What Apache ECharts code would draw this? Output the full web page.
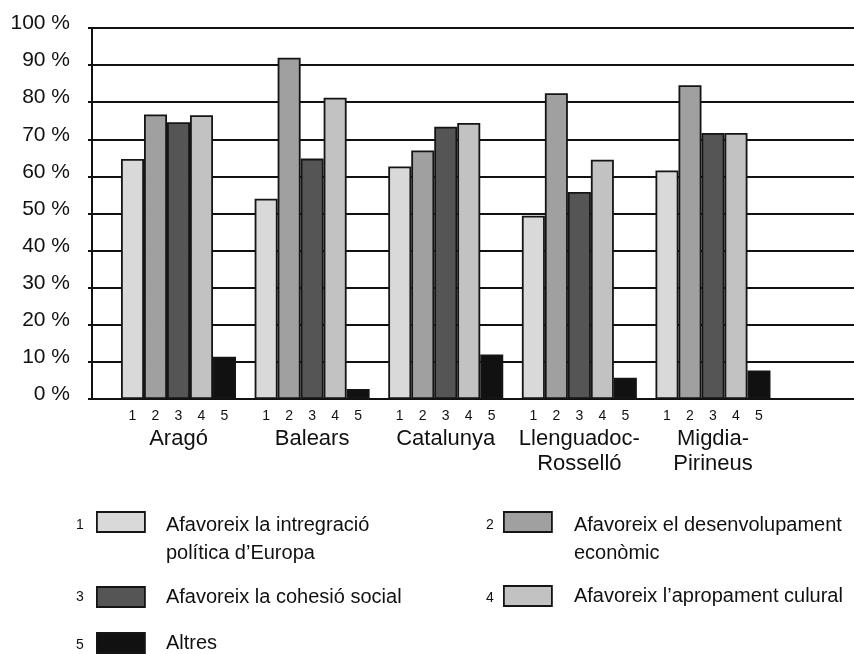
<!DOCTYPE html>
<html>
<head>
<meta charset="utf-8">
<script src="https://cdn.jsdelivr.net/npm/echarts@6/dist/echarts.min.js"></script>
<style>
html,body{margin:0;padding:0;background:#fff;}
#chart{width:854px;height:654px;}
</style>
</head>
<body>
<div id="chart"></div>
<script>
// ---- data ----
const categories = ['Aragó', 'Balears', 'Catalunya', 'Llenguadoc-\nRosselló', 'Migdia-\nPirineus'];
const seriesNames = [
  'Afavoreix la intregració\npolítica d’Europa',
  'Afavoreix el desenvolupament\neconòmic',
  'Afavoreix la cohesió social',
  'Afavoreix l’apropament culural',
  'Altres'
];
const seriesNumbers = ['1', '2', '3', '4', '5'];
const integracio = [64.7, 54.0, 62.7, 49.4, 61.6];
const desenvolupament = [76.7, 92.0, 67.0, 82.4, 84.6];
const cohesio = [74.6, 64.8, 73.4, 55.8, 71.7];
const apropament = [76.5, 81.2, 74.4, 64.5, 71.7];
const altres = [11.4, 2.7, 12.0, 5.7, 7.7];
const yTickValues = [0, 10, 20, 30, 40, 50, 60, 70, 80, 90, 100];

const seriesValues = [integracio, desenvolupament, cohesio, apropament, altres];
const colors = ['#d9d9d9', '#a0a0a0', '#555555', '#c2c2c2', '#111111'];
const FONT = '"Liberation Sans", Arial, sans-serif';
const INK = '#111111';

const chart = echarts.init(document.getElementById('chart'));

const series = seriesValues.map((vals, i) => ({
  name: seriesNames[i],
  type: 'bar',
  xAxisIndex: 1,
  yAxisIndex: 1,
  barWidth: 23,
  barGap: '0%',
  data: vals,
  itemStyle: { color: colors[i], borderColor: '#151515', borderWidth: 1.8 },
  label: {
    show: true,
    position: ['50%', '100%'],
    align: 'center',
    verticalAlign: 'middle',
    offset: [0, 17],
    formatter: () => seriesNumbers[i],
    fontFamily: FONT,
    fontSize: 14,
    color: INK
  },
  emphasis: { disabled: true },
  animation: false
}));

// legend placement: [left, iconTop, textPadLeft]
const legendPos = [
  [96, 512, 16],
  [503, 512, 17],
  [96, 587, 16],
  [503, 586, 17],
  [96, 633, 16]
];
const legends = seriesNames.map((n, i) => {
  const twoLines = n.indexOf('\n') >= 0;
  return {
    data: [n],
    left: legendPos[i][0],
    top: legendPos[i][1] - (twoLines ? 36 : 4.5),
    padding: 0,
    orient: 'horizontal',
    itemWidth: 48,
    itemHeight: 20,
    icon: 'rect',
    selectedMode: false,
    formatter: (name) => twoLines
      ? '{e|}\n' + name.split('\n').map(s => '{t|' + s + '}').join('\n')
      : name,
    itemStyle: { borderColor: '#151515', borderWidth: 1.8 },
    textStyle: {
      fontFamily: FONT,
      fontSize: 20,
      color: INK,
      lineHeight: 29,
      padding: [0, 0, 0, legendPos[i][2]],
      rich: {
        e: { lineHeight: 35, fontSize: 20, fontFamily: FONT },
        t: { lineHeight: 28.5, fontSize: 20, fontFamily: FONT, color: INK }
      }
    }
  };
});

const numberPos = [[80, 525], [490, 525], [80, 597], [490, 598], [80, 645]];
const graphics = seriesNumbers.map((t, i) => ({
  type: 'text',
  x: numberPos[i][0],
  y: numberPos[i][1],
  style: { text: t, fontFamily: FONT, fontSize: 14, fill: INK, align: 'center', verticalAlign: 'middle' }
}));

chart.setOption({
  animation: false,
  backgroundColor: '#fff',
  grid: [
    { left: 92, right: 0, top: 28, bottom: 255, containLabel: false },
    { left: 111.7, right: 74.2, top: 28, bottom: 255, containLabel: false }
  ],
  xAxis: [
    {
      gridIndex: 0, type: 'category', data: categories,
      axisLine: { show: true, lineStyle: { color: INK, width: 2 } },
      axisTick: { show: false }, axisLabel: { show: false }, splitLine: { show: false }
    },
    {
      gridIndex: 1, type: 'category', data: categories,
      axisLine: { show: false }, axisTick: { show: false }, splitLine: { show: false },
      axisLabel: {
        show: true, interval: 0, margin: 27, fontFamily: FONT, fontSize: 22,
        lineHeight: 25, color: INK
      }
    }
  ],
  yAxis: [
    {
      gridIndex: 0, type: 'value', min: yTickValues[0], max: yTickValues[yTickValues.length - 1], interval: 10,
      axisLine: { show: true, lineStyle: { color: INK, width: 2 } },
      axisTick: { show: true, length: 4, lineStyle: { color: INK, width: 2 } },
      splitLine: { show: true, lineStyle: { color: INK, width: 2 } },
      axisLabel: {
        formatter: '{value} %', fontFamily: FONT, fontSize: 21, color: INK,
        margin: 22, verticalAlign: 'bottom', lineHeight: 9
      }
    },
    {
      gridIndex: 1, type: 'value', min: 0, max: 100, interval: 10, show: false
    }
  ],
  legend: legends,
  graphic: graphics,
  series: series
});
</script>
</body>
</html>
